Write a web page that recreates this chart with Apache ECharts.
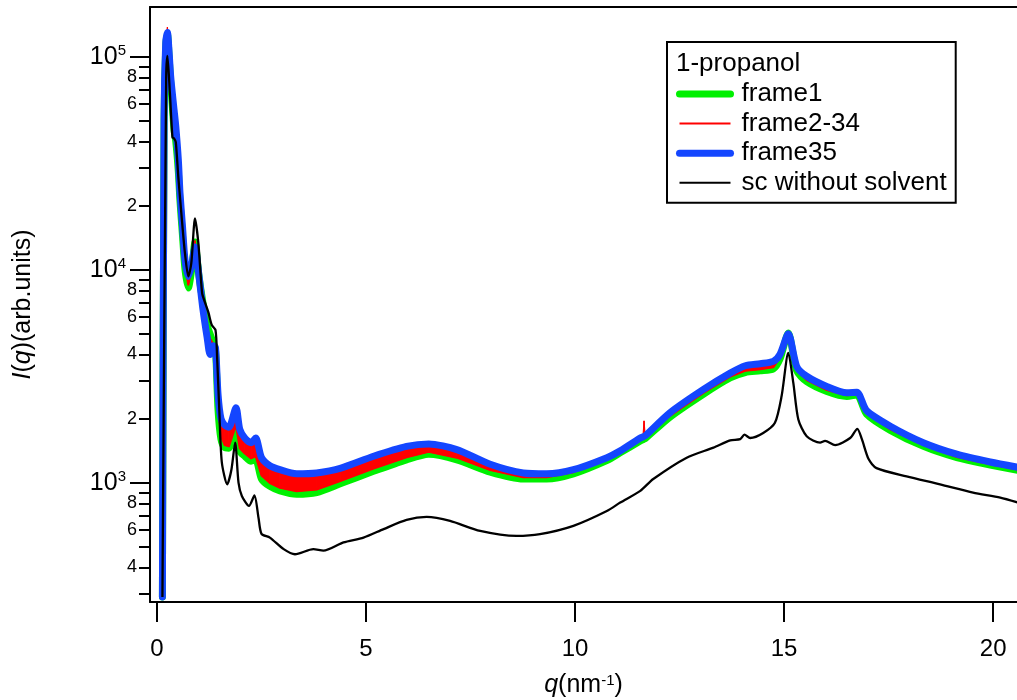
<!DOCTYPE html>
<html>
<head>
<meta charset="utf-8">
<script src="https://cdn.jsdelivr.net/npm/echarts@6/dist/echarts.min.js"></script>
<style>
html,body{margin:0;padding:0;background:#fff;}
#chart{width:1017px;height:700px;}
</style>
</head>
<body>
<div id="chart"></div>
<script>
// ---- data ----
const qFrames = [0.13,0.17,0.21,0.25,0.29,0.33,0.41,0.45,0.51,0.55,0.61,0.67,0.75,0.83,0.91,1.0,1.1,1.2,1.27,1.35,1.40,1.46,1.53,1.62,1.72,1.89,1.98,2.1,2.25,2.36,2.5,2.7,2.94,3.34,3.82,4.4,5.18,5.97,6.5,7.17,7.97,8.76,9.32,9.96,10.76,11.08,11.56,11.62,11.65,11.68,12.27,13.07,13.71,14.07,14.43,14.74,14.9,15.1,15.3,15.54,16.02,16.5,16.74,16.97,17.54,18.33,19.13,19.93,20.6];

const frame1 = [290,50000,112000,128000,100000,75000,45000,40000,29000,21000,14500,10000,8200,10000,13500,9500,7000,5500,5000,4500,4200,2200,1600,1460,1450,1800,1400,1330,1260,1280,1040,960,915,882,898,990,1130,1280,1360,1280,1120,1040,1040,1100,1270,1380,1570,1590,1600,1610,2030,2600,3100,3290,3350,3420,3800,5050,3350,2980,2680,2540,2580,2100,1760,1480,1310,1210,1140];

const frame2Low = [290,51000,115000,129000,102000,77000,48000,42000,30000,21800,15000,10400,8500,10100,13000,9400,6600,5000,4300,4400,4200,2300,1660,1500,1480,1860,1450,1370,1300,1330,1080,995,945,912,928,1020,1165,1315,1395,1310,1145,1060,1060,1120,1285,1390,1590,1610,1620,1630,2060,2640,3150,3350,3410,3480,3860,5000,3400,3030,2720,2570,2600,2120,1780,1500,1320,1220,1150];

const frame34High = [290,53000,120000,138000,108000,80000,55000,46500,32500,23000,15900,11000,9200,10500,13700,9600,7000,5400,4800,4500,4300,2500,1950,1830,1790,2200,1750,1600,1520,1600,1290,1180,1130,1080,1090,1155,1310,1460,1500,1410,1205,1100,1090,1140,1300,1400,1610,1630,1950,1650,2110,2720,3240,3500,3580,3670,3970,5000,3500,3130,2800,2620,2640,2160,1820,1530,1350,1240,1170];

const frame35 = [290,52000,118000,130000,105000,80000,56000,47000,33000,23000,16000,11100,9300,10500,12800,9500,6500,4800,4000,4400,4300,2600,2000,1860,1820,2250,1780,1620,1540,1620,1310,1200,1150,1100,1110,1170,1330,1480,1520,1430,1220,1110,1100,1150,1310,1410,1620,1640,1650,1660,2130,2740,3270,3540,3620,3710,4000,5000,3520,3160,2830,2640,2660,2180,1840,1540,1360,1250,1180];

const qSc = [0.13,0.22,0.25,0.31,0.37,0.41,0.45,0.51,0.59,0.67,0.75,0.82,0.91,0.99,1.08,1.15,1.23,1.31,1.40,1.44,1.49,1.55,1.68,1.78,1.87,1.95,2.03,2.2,2.33,2.43,2.5,2.7,3.03,3.3,3.74,3.98,4.46,4.94,5.42,5.97,6.45,7.01,7.73,8.6,9.16,9.96,10.76,11.08,11.56,11.87,12.67,13.31,13.71,13.95,14.05,14.19,14.5,14.78,14.94,15.1,15.22,15.34,15.54,15.86,15.98,16.22,16.58,16.75,16.86,17.02,17.21,17.93,18.73,19.52,20.17,20.6];

const scNoSolvent = [290,80000,101000,67000,42000,41300,39800,27300,17700,11900,9300,10700,17400,13300,7760,7000,6300,5500,5200,3800,2200,1250,982,1150,1540,1000,866,777,870,680,575,552,487,461,487,479,524,552,605,668,690,661,593,562,573,627,736,806,915,1040,1310,1460,1580,1600,1680,1620,1710,1910,2550,4070,2940,1980,1650,1540,1570,1500,1620,1790,1600,1290,1170,1070,982,898,851,806];

const xTicks = [0,5,10,15,20];
const yMajorTicks = [1000,10000,100000];
const yMinorTicks = [300,400,500,600,700,800,900,2000,3000,4000,5000,6000,7000,8000,9000,20000,30000,40000,50000,60000,70000,80000,90000];
const yMinorLabels = [400,600,800,2000,4000,6000,8000,20000,40000,60000,80000];

const legendTitle = '1-propanol';
const seriesNames = ['frame1','frame2-34','frame35','sc without solvent'];

// ---- chart ----
const FONT = "'Liberation Sans', Arial, Helvetica, sans-serif";
const zip = (xs, ys) => xs.map((x, i) => [x, ys[i]]);
// band segments between the lowest (frame2) and highest (frame34) red frames
const bandSegments = qFrames.slice(0, -1).map((q, i) =>
  [q, frame2Low[i], frame34High[i], qFrames[i + 1], frame2Low[i + 1], frame34High[i + 1]]);

const X_MIN = -0.167, X_MAX = 20.57;
const Y_MIN = 275, Y_MAX = 171400;
const SMOOTH = 0.25;

const axisLineStyle = {color:'#000', width:2};

const chart = echarts.init(document.getElementById('chart'), null, {renderer:'canvas'});
chart.setOption({
  animation:false,
  backgroundColor:'#fff',
  grid:{left:150, top:7, right:0, bottom:98, containLabel:false, outerBoundsMode:'none'},
  xAxis:[{
    type:'value', position:'bottom', min:X_MIN, max:X_MAX,
    axisLine:{show:true, onZero:false, lineStyle:axisLineStyle},
    axisTick:{show:true, customValues:xTicks, length:20, lineStyle:axisLineStyle},
    axisLabel:{customValues:xTicks, fontSize:24, color:'#000', fontFamily:FONT, margin:35},
    splitLine:{show:false},
    name:'{i|q}(nm{s|-1})', nameLocation:'middle', nameGap:71,
    nameTextStyle:{fontSize:25, color:'#000', fontFamily:FONT,
      rich:{i:{fontStyle:'italic', fontSize:25, fontFamily:FONT, color:'#000'},
            s:{fontSize:15, fontFamily:FONT, color:'#000', verticalAlign:'top'}}}
  },{
    type:'value', position:'top', min:X_MIN, max:X_MAX,
    axisLine:{show:true, onZero:false, lineStyle:axisLineStyle},
    axisTick:{show:false}, axisLabel:{show:false}, splitLine:{show:false}
  }],
  yAxis:[{
    type:'log', logBase:10, position:'left', min:Y_MIN, max:Y_MAX,
    axisLine:{show:true, onZero:false, lineStyle:axisLineStyle},
    axisTick:{show:true, customValues:yMinorTicks, length:11, lineStyle:axisLineStyle},
    axisLabel:{customValues:yMinorLabels, fontSize:18, color:'#000', fontFamily:FONT, margin:13,
      formatter:function(v){ const e = Math.floor(Math.log10(v) + 1e-9); return String(Math.round(v/Math.pow(10,e))); }},
    splitLine:{show:false}, minorTick:{show:false}
  },{
    type:'log', logBase:10, position:'left', min:Y_MIN, max:Y_MAX,
    axisLine:{show:false, onZero:false},
    axisTick:{show:true, customValues:yMajorTicks, length:20, lineStyle:axisLineStyle},
    axisLabel:{customValues:yMajorTicks, color:'#000', margin:24,
      formatter:function(v){ const e = Math.round(Math.log10(v)); return '{b|10}{s|' + e + '}'; },
      rich:{b:{fontSize:25, fontFamily:FONT, color:'#000', lineHeight:26},
            s:{fontSize:15, fontFamily:FONT, color:'#000', verticalAlign:'top', lineHeight:15}}},
    splitLine:{show:false},
    name:'{i|I}({i|q})(arb.units)', nameLocation:'middle', nameRotate:90, nameGap:114,
    nameTextStyle:{fontSize:25, color:'#000', fontFamily:FONT,
      rich:{i:{fontStyle:'italic', fontSize:25, fontFamily:FONT, color:'#000'}}}
  }],
  legend:{
    orient:'vertical', left:667, top:42,
    padding:[39, 9, 7, 9], itemGap:3.6, itemWidth:51, itemHeight:14,
    borderColor:'#000', borderWidth:2, backgroundColor:'#fff',
    selectedMode:false,
    textStyle:{fontSize:26, color:'#000', fontFamily:FONT, lineHeight:25, padding:[0,0,0,6]},
    data:[
      {name:seriesNames[0], lineStyle:{width:7, cap:'round'}, itemStyle:{opacity:0}},
      {name:seriesNames[1], lineStyle:{width:2}, itemStyle:{opacity:0}},
      {name:seriesNames[2], lineStyle:{width:7, cap:'round'}, itemStyle:{opacity:0}},
      {name:seriesNames[3], lineStyle:{width:2}, itemStyle:{opacity:0}}
    ]
  },
  graphic:[{
    type:'text', left:676, top:51, z:100,
    style:{text:legendTitle, fontSize:26, fontFamily:FONT, fill:'#000'}
  }],
  series:[
    {type:'line', name:seriesNames[0], data:zip(qFrames, frame1), symbol:'none', showSymbol:false,
     smooth:SMOOTH,
     lineStyle:{color:'#00f000', width:7, join:'round', cap:'round'}, itemStyle:{color:'#00f000'}, z:2},
    {type:'custom', name:'frame2-34 band', coordinateSystem:'cartesian2d', data:bandSegments,
     encode:{x:[0,3], y:[1,2,4,5]}, z:3, silent:true,
     renderItem:function(params, api){
       const p0 = api.coord([api.value(0), api.value(1)]);
       const p1 = api.coord([api.value(3), api.value(4)]);
       const p2 = api.coord([api.value(3), api.value(5)]);
       const p3 = api.coord([api.value(0), api.value(2)]);
       return {type:'polygon', shape:{points:[p0,p1,p2,p3]},
               style:{fill:'#ff0000', stroke:'#ff0000', lineWidth:1}};
     }},
    {type:'line', name:seriesNames[1], data:zip(qFrames, frame2Low), symbol:'none', showSymbol:false,
     lineStyle:{color:'#ff0000', width:2, join:'round'}, itemStyle:{color:'#ff0000'}, z:3},
    {type:'line', name:seriesNames[2], data:zip(qFrames, frame35), symbol:'none', showSymbol:false,
     smooth:SMOOTH,
     lineStyle:{color:'#1446ff', width:7, join:'round', cap:'round'}, itemStyle:{color:'#1446ff'}, z:4},
    {type:'line', name:seriesNames[3], data:zip(qSc, scNoSolvent), symbol:'none', showSymbol:false,
     smooth:SMOOTH,
     lineStyle:{color:'#000000', width:2.3, join:'round'}, itemStyle:{color:'#000'}, z:5}
  ]
});
</script>
</body>
</html>
